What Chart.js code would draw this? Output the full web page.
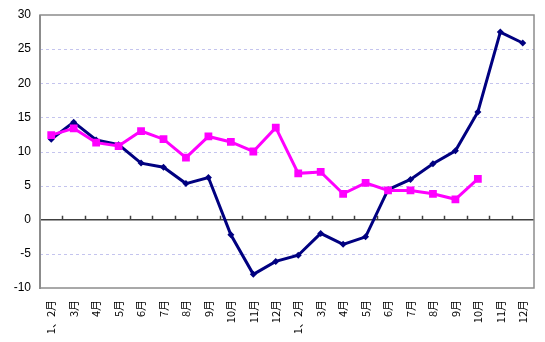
<!DOCTYPE html>
<html>
<head>
<meta charset="utf-8">
<script src="https://cdn.jsdelivr.net/npm/chart.js@4"></script>
<style>
html,body{margin:0;padding:0;background:#fff;}
#wrap{width:545px;height:342px;}
</style>
</head>
<body>
<div id="wrap"><canvas id="c" width="545" height="342"></canvas></div>
<script>
const categories = ["1、2月","3月","4月","5月","6月","7月","8月","9月","10月","11月","12月",
                    "1、2月","3月","4月","5月","6月","7月","8月","9月","10月","11月","12月"];
const navySeries = [11.8,14.3,11.7,11.0,8.3,7.7,5.3,6.2,-2.2,-8.0,-6.1,
                    -5.2,-2.0,-3.6,-2.5,4.4,5.9,8.2,10.1,15.8,27.5,25.9];
const magentaSeries = [12.4,13.4,11.3,10.8,13.0,11.8,9.1,12.2,11.4,10.0,13.5,
                       6.8,7.0,3.8,5.4,4.3,4.3,3.8,3.0,6.0,null,null];
const yMin = -10, yMax = 30, yStep = 5;

const framePlugin = {
  id: 'frame',
  beforeDatasetsDraw(chart) {
    const {ctx, chartArea: a, scales: {x, y}} = chart;
    ctx.save();
    // dashed horizontal gridlines
    ctx.strokeStyle = '#c4c4ee';
    ctx.lineWidth = 1;
    ctx.setLineDash([3, 3]);
    ctx.beginPath();
    y.ticks.forEach(t => {
      if (t.value === 0 || t.value === yMin || t.value === yMax) return;
      const py = Math.round(y.getPixelForValue(t.value)) + 0.5;
      ctx.moveTo(a.left, py); ctx.lineTo(a.right, py);
    });
    ctx.stroke();
    ctx.setLineDash([]);
    // zero line with upward tick marks at category boundaries
    const y0 = y.getPixelForValue(0);
    ctx.strokeStyle = '#404040';
    ctx.lineWidth = 1.5;
    ctx.beginPath();
    ctx.moveTo(a.left, y0); ctx.lineTo(a.right, y0);
    for (let i = 1; i < categories.length; i++) {
      const bx = Math.round((x.getPixelForValue(i - 1) + x.getPixelForValue(i)) / 2) + 0.5;
      ctx.moveTo(bx, y0); ctx.lineTo(bx, y0 - 4);
    }
    ctx.stroke();
    // plot area frame
    ctx.strokeStyle = '#8c8c8c';
    ctx.lineWidth = 1.5;
    ctx.strokeRect(a.left, a.top, a.right - a.left, a.bottom - a.top);
    ctx.lineWidth = 2;
    ctx.beginPath();
    ctx.moveTo(a.left, a.top); ctx.lineTo(a.left, a.bottom + 1);
    ctx.stroke();
    ctx.restore();
  }
};

new Chart(document.getElementById('c'), {
  type: 'line',
  data: {
    labels: categories,
    datasets: [
      {
        data: magentaSeries,
        borderColor: '#ff00ff',
        backgroundColor: '#ff00ff',
        borderWidth: 3,
        pointStyle: 'rect',
        pointRadius: 5.5,
        pointBorderWidth: 0,
        spanGaps: false,
        tension: 0
      },
      {
        data: navySeries,
        borderColor: '#000080',
        backgroundColor: '#000080',
        borderWidth: 3,
        pointStyle: 'rectRot',
        pointRadius: 3.5,
        pointBorderWidth: 0,
        tension: 0
      }
    ]
  },
  options: {
    responsive: false,
    animation: false,
    layout: {padding: {left: 0, right: 11, top: 15, bottom: 0}},
    plugins: {legend: {display: false}, tooltip: {enabled: false}},
    scales: {
      x: {
        type: 'category',
        offset: true,
        grid: {display: false, drawTicks: false},
        border: {display: false},
        ticks: {
          autoSkip: false,
          maxRotation: 90,
          minRotation: 90,
          padding: 12,
          color: '#000',
          font: {family: "'Noto Sans CJK SC', 'DejaVu Sans', sans-serif", size: 11}
        },
        afterFit(s) { s.height = 54; s.paddingLeft = 0; s.paddingRight = 0; }
      },
      y: {
        min: yMin,
        max: yMax,
        ticks: {
          stepSize: yStep,
          padding: 9,
          color: '#000',
          font: {family: "'Liberation Sans', Arial, sans-serif", size: 12}
        },
        grid: {display: false, drawTicks: false},
        border: {display: false},
        afterFit(s) { s.width = 40; s.paddingTop = 0; s.paddingBottom = 0; }
      }
    }
  },
  plugins: [framePlugin]
});
</script>
</body>
</html>
